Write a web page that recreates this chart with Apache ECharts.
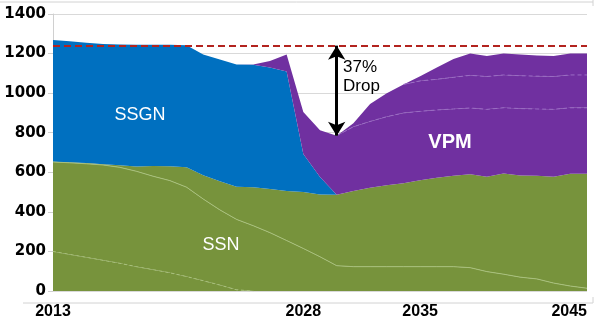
<!DOCTYPE html>
<html><head><meta charset="utf-8">
<script src="https://cdn.jsdelivr.net/npm/echarts@6/dist/echarts.min.js"></script>
<style>html,body{margin:0;padding:0;background:#fff}#c{width:600px;height:330px}</style>
</head><body><div id="c"></div>
<script>
// ---- data ----
const years = ['2013','2014','2015','2016','2017','2018','2019','2020','2021','2022','2023','2024','2025','2026','2027','2028','2029','2030','2031','2032','2033','2034','2035','2036','2037','2038','2039','2040','2041','2042','2043','2044','2045'];
const xTickLabels = ['2013','2028','2035','2045'];
const yMin = 0, yMax = 1400, yStep = 200;
const baseline = 1240;
// SSN sub-groups (stacked bottom to top)
const ssnA = [200,185,170,155,140,123,108,92,73,52,30,6,0,null,null,null,null,null,null,null,null,null,null,null,null,null,null,null,null,null,null,null,null];
const ssnB = [452,463,473,482,485,482,472,466,452,413,380,356,330,295,255,215,173,128,123,123,123,123,123,123,123,118,98,85,70,61,40,25,14];
const ssnC = [1,2,4,4,10,24,52,72,100,120,145,165,195,220,251,285,315,359,382,399,412,422,437,449,459,472,480,509,514,521,538,567,578];
// SSGN
const ssgn = [615,612,608,607,611,615,612,614,617,610,615,618,618,615,604,192,88,0,0,0,0,0,0,0,0,0,0,0,0,0,0,0,0];
// VPM sub-groups
const vpmA = [null,null,null,null,null,null,null,null,null,null,null,0,2,32,85,213,236,298,325,335,346,355,348,343,338,335,340,332,338,338,340,334,334];
const vpmB = [null,null,null,null,null,null,null,null,null,null,null,null,null,null,null,null,null,0,18,88,119,144,154,155,160,165,166,166,166,166,166,166,166];
const vpmC = [null,null,null,null,null,null,null,null,null,null,null,null,null,null,null,null,null,null,null,null,null,0,24,59,93,110,104,108,107,104,104,108,108];

// ---- derived boundaries for the thin inner lines ----
const n = years.length;
const v = (a, i) => (a[i] == null ? 0 : a[i]);
const lineA = ssnA.slice();
const lineB = years.map((_, i) => v(ssnA, i) + v(ssnB, i));
const green = years.map((_, i) => lineB[i] + v(ssnC, i));
const total = years.map((_, i) => green[i] + v(ssgn, i) + v(vpmA, i) + v(vpmB, i) + v(vpmC, i));
const lineL = years.map((_, i) => vpmB[i] == null ? null : green[i] + v(ssgn, i) + v(vpmA, i));
const lineU = years.map((_, i) => vpmC[i] == null ? null : lineL[i] + v(vpmB, i));
let dipIdx = 0;
for (let i = 12; i < n; i++) if (dipIdx < 12 || total[i] < total[dipIdx]) dipIdx = i;

const GREEN = '#77933C', BLUE = '#0070C0', PURPLE = '#7030A0';
const FONT = '"Liberation Sans", Arial, sans-serif';

function area(name, data, color, extra) {
  return Object.assign({
    name, type: 'line', stack: 'total', data, symbol: 'none', silent: true,
    lineStyle: { width: 0 }, areaStyle: { color, opacity: 1 }, itemStyle: { color }
  }, extra || {});
}
function thin(name, data, color, type) {
  return { name, type: 'line', data, symbol: 'none', silent: true, z: 3,
    lineStyle: { width: 1, color, type }, itemStyle: { color } };
}

const chart = echarts.init(document.getElementById('c'), null, { renderer: 'canvas' });
chart.setOption({
  animation: false,
  backgroundColor: '#fff',
  grid: { left: 53, right: 13, top: 14, bottom: 39, containLabel: false, outerBoundsMode: 'none' },
  xAxis: {
    type: 'category', data: years, boundaryGap: false,
    axisLine: { show: false }, axisTick: { show: false }, splitLine: { show: false },
    axisLabel: {
      interval: (i, val) => xTickLabels.indexOf(val) >= 0,
      margin: 13, color: '#000', fontWeight: 'bold', fontSize: 16, fontFamily: FONT,
      alignMaxLabel: 'right'
    }
  },
  yAxis: {
    type: 'value', min: yMin, max: yMax, interval: yStep,
    axisLine: { show: true, lineStyle: { color: '#D0D0D0' } },
    axisTick: { show: true, length: 5, lineStyle: { color: '#D0D0D0' } },
    splitLine: { lineStyle: { color: '#D9D9D9', width: 1 } },
    axisLabel: { margin: 7, color: '#000', fontWeight: 'bold', fontSize: 15,
      fontFamily: '"DejaVu Sans", sans-serif', formatter: (val) => String(val) }
  },
  series: [
    area('SSN-a', ssnA, GREEN, {
      markLine: { silent: true, symbol: 'none', label: { show: false }, z: 6,
        lineStyle: { color: '#B3231F', type: [7, 4], width: 2 },
        data: [{ yAxis: baseline }] }
    }),
    area('SSN-b', ssnB, GREEN),
    area('SSN-c', ssnC, GREEN),
    area('SSGN', ssgn, BLUE),
    area('VPM-a', vpmA, PURPLE, {
      markLine: { silent: true, symbol: ['arrow', 'arrow'], symbolSize: [13, 14], label: { show: false }, z: 7,
        lineStyle: { color: '#000', type: 'solid', width: 3 },
        data: [[{ coord: [years[dipIdx], baseline] }, { coord: [years[dipIdx], total[dipIdx]] }]] }
    }),
    area('VPM-b', vpmB, PURPLE),
    area('VPM-c', vpmC, PURPLE),
    thin('SSN line a', lineA, '#A8C07C', [3, 3]),
    thin('SSN line b', lineB, '#A8C07C', 'solid'),
    thin('VPM line a', lineL, '#9A6CC4', [4, 3]),
    thin('VPM line b', lineU, '#9A6CC4', [4, 3])
  ],
  graphic: [
    { type: 'line', silent: true, shape: { x1: 0, y1: 2, x2: 593, y2: 2 }, style: { stroke: '#D2D2D2', lineWidth: 1 } },
    { type: 'line', silent: true, shape: { x1: 593, y1: 0, x2: 593, y2: 6 }, style: { stroke: '#D2D2D2', lineWidth: 1 } },
    { type: 'line', silent: true, shape: { x1: 23, y1: 303, x2: 593, y2: 303 }, style: { stroke: '#D2D2D2', lineWidth: 1 } },
    { type: 'line', silent: true, shape: { x1: 593, y1: 297, x2: 593, y2: 303 }, style: { stroke: '#D2D2D2', lineWidth: 1 } },
    { type: 'text', silent: true, x: 140, y: 115, z: 10, style: { text: 'SSGN', fill: '#fff', font: '18px ' + FONT, align: 'center', verticalAlign: 'middle' } },
    { type: 'text', silent: true, x: 221, y: 245, z: 10, style: { text: 'SSN', fill: '#fff', font: '18px ' + FONT, align: 'center', verticalAlign: 'middle' } },
    { type: 'text', silent: true, x: 450, y: 142, z: 10, style: { text: 'VPM', fill: '#fff', font: 'bold 20px ' + FONT, align: 'center', verticalAlign: 'middle' } },
    { type: 'text', silent: true, x: 343, y: 67, z: 10, style: { text: '37%', fill: '#000', font: '17px ' + FONT, align: 'left', verticalAlign: 'middle' } },
    { type: 'text', silent: true, x: 343, y: 86, z: 10, style: { text: 'Drop', fill: '#000', font: '17px ' + FONT, align: 'left', verticalAlign: 'middle' } }
  ]
});
</script></body></html>
